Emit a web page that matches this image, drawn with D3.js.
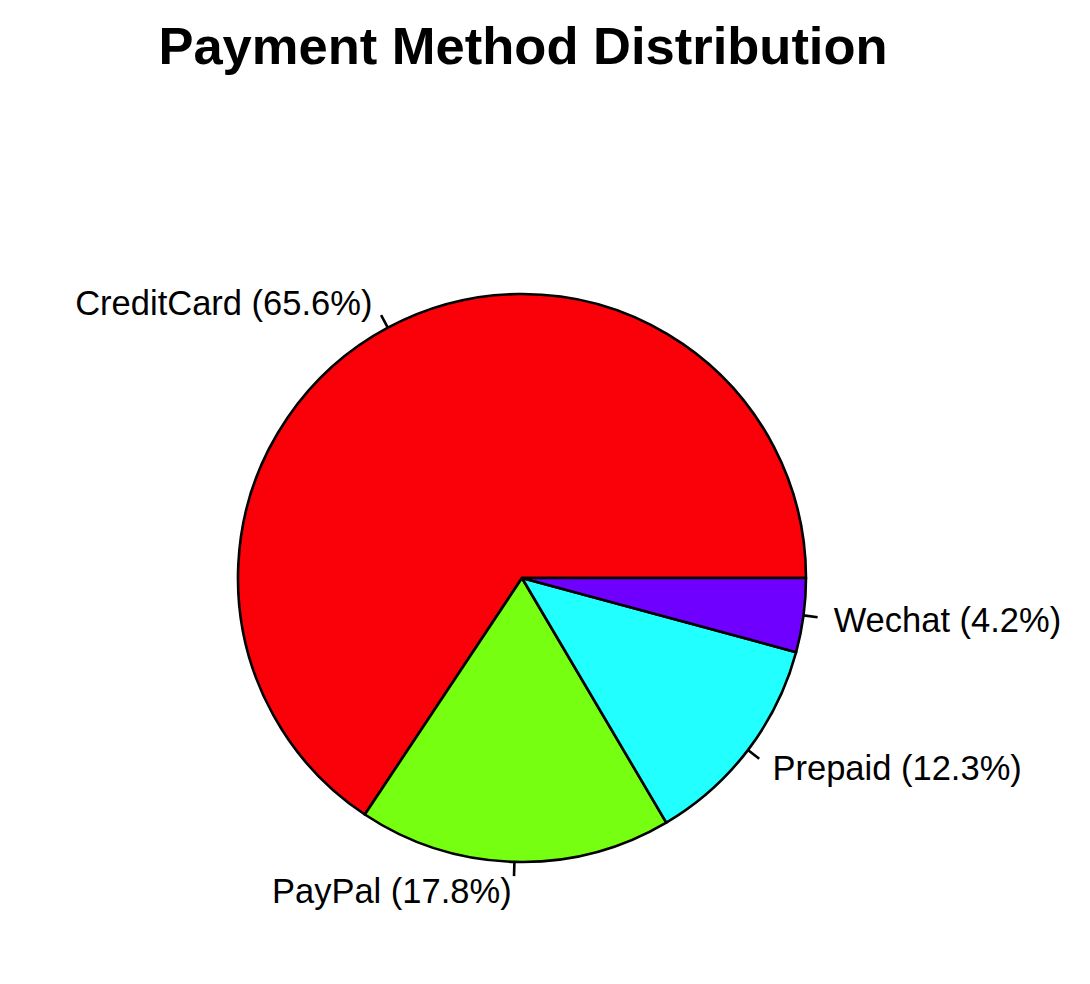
<!DOCTYPE html>
<meta charset="utf-8">
<script src="https://d3js.org/d3.v7.min.js"></script>
<style>
  body { margin: 0; background: #fff; }
  text { font-family: "Liberation Sans", Arial, Helvetica, sans-serif; }
</style>
<div id="chart"></div>
<script>

// data
var methods = ["CreditCard", "PayPal", "Prepaid", "Wechat"];
var shares = [65.6, 17.8, 12.3, 4.2];
var colors = ["#fa0008", "#76ff10", "#22ffff", "#6f00ff"];

var width = 1090, height = 984;
var cx = 522, cy = 578, radius = 284;

var svg = d3.select("#chart")
  .append("svg")
    .attr("width", width)
    .attr("height", height);

svg.append("text")
  .attr("x", 523)
  .attr("y", 64)
  .attr("text-anchor", "middle")
  .attr("font-size", 52.5)
  .attr("font-weight", "bold")
  .text("Payment Method Distribution");

var data = methods.map(function(m, i) { return {name: m, value: shares[i], color: colors[i]}; });

// base-R style: counter-clockwise from 3 o'clock
var pie = d3.pie().sort(null).value(function(d) { return d.value; });
var slices = pie(data).map(function(s) {
  // s.startAngle / s.endAngle used as math angles (ccw from +x)
  return {
    data: s.data,
    t0: s.startAngle, t1: s.endAngle,
    startAngle: Math.PI / 2 - s.endAngle,
    endAngle: Math.PI / 2 - s.startAngle
  };
});

var arc = d3.arc().innerRadius(0).outerRadius(radius);

var g = svg.append("g").attr("transform", "translate(" + cx + "," + cy + ")");

g.selectAll("path.slice")
  .data(slices)
  .enter()
  .append("path")
    .attr("class", "slice")
    .attr("d", arc)
    .attr("fill", function(d) { return d.data.color; })
    .attr("stroke", "#000")
    .attr("stroke-width", 2.6)
    .attr("stroke-linejoin", "round");

// tick lines and labels
slices.forEach(function(d) {
  var mid = (d.t0 + d.t1) / 2;
  var c = Math.cos(mid), s = -Math.sin(mid);
  g.append("line")
    .attr("x1", radius * c).attr("y1", radius * s)
    .attr("x2", 1.05 * radius * c).attr("y2", 1.05 * radius * s)
    .attr("stroke", "#000")
    .attr("stroke-width", 2.6);
  g.append("text")
    .attr("x", 1.1 * radius * c + (c > 0 ? 2 : -2))
    .attr("y", 1.1 * radius * s)
    .attr("dy", "0.36em")
    .attr("font-size", 34.5)
    .attr("text-anchor", c > 0 ? "start" : "end")
    .text(d.data.name + " (" + d.data.value.toFixed(1) + "%)");
});

</script>
